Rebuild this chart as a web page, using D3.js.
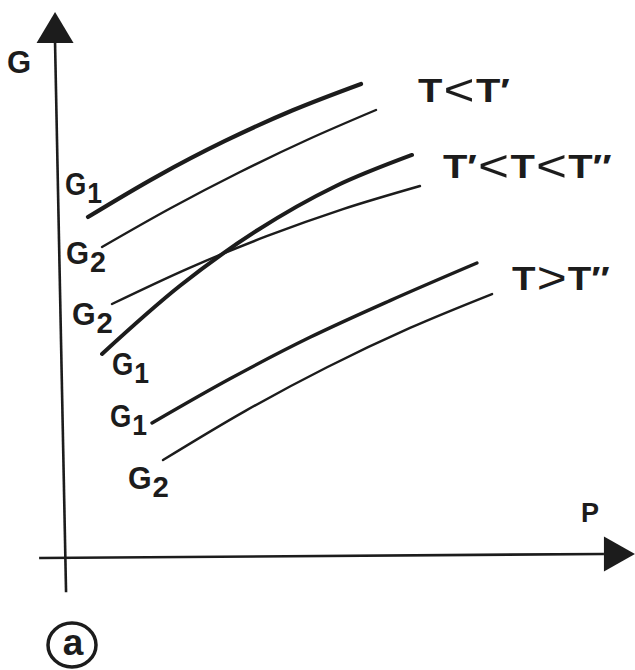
<!DOCTYPE html>
<html>
<head>
<meta charset="utf-8">
<script src="https://cdn.jsdelivr.net/npm/d3@7"></script>
<style>
  html, body { margin: 0; padding: 0; background: #ffffff; }
  svg { display: block; }
  text { font-family: "Liberation Sans", Arial, Helvetica, sans-serif; fill: #1c1c1c; }
</style>
</head>
<body>
<svg id="chart" width="635" height="670"></svg>
<script>
// Schematic G(P) isotherms: each temperature regime has a G1 and a G2 branch.
const pTopG1 = [0.509, 1.750, 2.991, 4.232, 5.473];
const gTopG1 = [6.647, 7.435, 8.133, 8.739, 9.255];
const pTopG2 = [0.764, 2.009, 3.255, 4.500, 5.745];
const gTopG2 = [6.059, 6.819, 7.520, 8.162, 8.745];

const pMidG1 = [0.764, 2.182, 3.582, 5.000, 6.400];
const gMidG1 = [3.961, 5.298, 6.382, 7.245, 7.863];
const pMidG2 = [0.945, 2.345, 3.745, 5.145, 6.545];
const gMidG2 = [4.941, 5.645, 6.265, 6.802, 7.255];

const pLowG1 = [1.673, 3.090, 4.545, 6.000, 7.580];
const gLowG1 = [2.608, 3.475, 4.288, 5.008, 5.745];
const pLowG2 = [1.873, 3.364, 4.855, 6.364, 7.855];
const gLowG2 = [1.882, 2.841, 3.702, 4.473, 5.137];

const regimeLabels = ["T<T′", "T′<T<T″", "T>T″"];
const branchNames = ["G1", "G2", "G2", "G1", "G1", "G2"];
const axisNames = ["P", "G"];

const svg = d3.select("#chart");
const x = d3.scaleLinear().domain([0, 10]).range([60, 610]);
const y = d3.scaleLinear().domain([0, 10]).range([556, 46]);
const ink = "#1c1c1c";

// Axes (hand-drawn look: the frame is very slightly tilted)
const yAxisEnds = [[0.11, -0.71], [-0.09, 10.06]];
const xAxisEnds = [[-0.38, -0.04], [9.89, 0.04]];
const axisLine = d3.line().x(d => x(d[0])).y(d => y(d[1]));
svg.append("path").attr("d", axisLine(yAxisEnds))
  .attr("stroke", ink).attr("stroke-width", 2.6).attr("fill", "none");
svg.append("path").attr("d", axisLine(xAxisEnds))
  .attr("stroke", ink).attr("stroke-width", 2.6).attr("fill", "none");

// Arrowheads
const yTip = yAxisEnds[1];
svg.append("path")
  .attr("transform", `translate(${x(yTip[0])},${y(yTip[1])})`)
  .attr("d", "M-18.5,0 L0,-31 L18.5,0 Z").attr("fill", ink);
const xTip = xAxisEnds[1];
svg.append("path")
  .attr("transform", `translate(${x(xTip[0])},${y(xTip[1])})`)
  .attr("d", "M0,-17.5 L31,0 L0,17.5 Z").attr("fill", ink);

// Axis names
svg.append("text").attr("x", 7).attr("y", 73)
  .attr("font-size", 31).attr("font-weight", "bold").text(axisNames[1]);
svg.append("text").attr("x", 581).attr("y", 522)
  .attr("font-size", 27).attr("font-weight", "bold").text(axisNames[0]);

// Curves
const curve = d3.line().x(d => x(d[0])).y(d => y(d[1])).curve(d3.curveCatmullRom.alpha(0.5));
const series = [
  { p: pTopG1, g: gTopG1, w: 4.2 },
  { p: pTopG2, g: gTopG2, w: 2.4 },
  { p: pMidG1, g: gMidG1, w: 4.0 },
  { p: pMidG2, g: gMidG2, w: 2.4 },
  { p: pLowG1, g: gLowG1, w: 3.4 },
  { p: pLowG2, g: gLowG2, w: 2.4 }
];
svg.selectAll("path.iso").data(series).join("path")
  .attr("class", "iso")
  .attr("d", s => curve(s.p.map((v, i) => [v, s.g[i]])))
  .attr("fill", "none").attr("stroke", ink)
  .attr("stroke-width", s => s.w).attr("stroke-linecap", "round");

// Stretch a text block horizontally to a given ink width, anchored at its left baseline
function fitWidth(g, left, baseline, width) {
  const bb = g.node().getBBox();
  const sx = width / bb.width;
  g.attr("transform", `translate(${left - bb.x * sx},${baseline}) scale(${sx},1)`);
}

// Branch labels G1 / G2 near the start of each curve
const branchPos = [[65, 195, 37], [66, 264, 40], [72, 325, 41], [112, 375, 37], [110, 427, 37], [128, 489, 41]];
branchNames.forEach((name, i) => {
  const g = svg.append("g");
  const t = g.append("text").attr("x", 0).attr("y", 0)
    .attr("font-size", 31).attr("font-weight", "bold");
  t.append("tspan").text(name[0]);
  t.append("tspan").attr("dy", 8).attr("dx", 1).attr("font-size", 30).text(name[1]);
  fitWidth(g, branchPos[i][0], branchPos[i][1], branchPos[i][2]);
});

// Temperature regime labels at the right end of each pair
const regimePos = [[418, 102, 92], [443, 178, 169], [512, 290, 98]];
regimeLabels.forEach((lab, i) => {
  const g = svg.append("g");
  const t = g.append("text").attr("x", 0).attr("y", 0)
    .attr("font-size", 33).attr("font-weight", "bold");
  let shifted = false;
  for (const ch of lab) {
    const s = t.append("tspan").text(ch);
    if (ch === "<" || ch === ">") {
      s.attr("font-weight", "normal").attr("font-size", 44).attr("dy", 3).attr("dx", 1);
      shifted = true;
    } else if (shifted) {
      s.attr("dy", -3).attr("dx", 1);
      shifted = false;
    }
  }
  fitWidth(g, regimePos[i][0], regimePos[i][1], regimePos[i][2]);
});

// Panel tag
svg.append("ellipse").attr("cx", 72).attr("cy", 645).attr("rx", 24).attr("ry", 22)
  .attr("fill", "none").attr("stroke", ink).attr("stroke-width", 3.5);
svg.append("text").attr("x", 73).attr("y", 655).attr("text-anchor", "middle")
  .attr("font-size", 37).attr("font-weight", "bold").text("a");
</script>
</body>
</html>
